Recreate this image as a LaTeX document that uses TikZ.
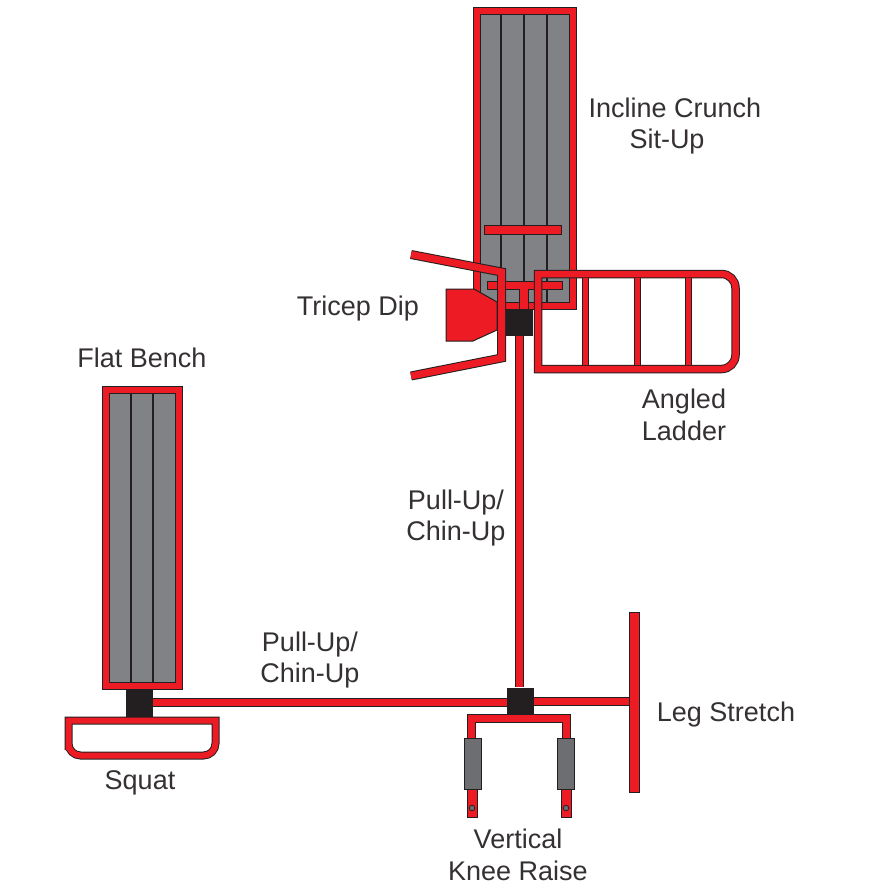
\documentclass[tikz,border=0pt]{standalone}
\usepackage{fontspec}
\setmainfont{Liberation Sans}
\definecolor{barred}{HTML}{ED1C24}
\definecolor{barline}{HTML}{231F20}
\definecolor{padgray}{HTML}{808285}
\definecolor{sleevegray}{HTML}{6D6E71}
\tikzset{
	redbar/.style={draw=barline, line width=1pt, double=barred, double distance=#1, line join=miter},
	redbar/.default=6pt,
	crossbar/.style={draw=barline, line width=1pt, fill=barred},
	padline/.style={draw=barline, line width=1.5pt},
	sleeve/.style={draw=barline, line width=1pt, fill=sleevegray},
	pivot/.style={draw=barline, line width=0.8pt, fill=sleevegray},
	block/.style={fill=barline, inner sep=0pt, minimum width=27pt, minimum height=27pt},
	lab/.style={font=\fontsize{27pt}{31.5pt}\selectfont, align=center, text=barline!92!white, inner sep=0pt},
}
\begin{document}
\begin{tikzpicture}[x=1pt, y=-1pt]
	\useasboundingbox (0,0) rectangle (894,894);
	\fill[white] (0,0) rectangle (894,894);
	% incline bench
	\draw[redbar, fill=padgray] (476.5,10.5) rectangle (572.5,305.5);
	\draw[padline] (501,14) -- (501,302);
	\draw[padline] (524,14) -- (524,302);
	\draw[padline] (547,14) -- (547,302);
	\draw[crossbar] (484,225) rectangle (561,234);
	\draw[crossbar] (487,281) rectangle (562,289);
	\draw[crossbar] (519,285) rectangle (528,309);
	% angled ladder
	\draw[redbar=6.5pt] (538,274) [rounded corners=14pt] -- (735.5,274) -- (735.5,369) -- (640,369) [sharp corners] -- (538,369) -- cycle;
	\draw[redbar=5pt] (585.5,278) -- (585.5,365);
	\draw[redbar=5pt] (637,278) -- (637,365);
	\draw[redbar=5pt] (688,278) -- (688,365);
	% tricep dip
	\draw[crossbar] (446,289) -- (474,289) -- (497,302) -- (497,330) -- (473,341) -- (446,341) -- cycle;
	\draw[redbar=7pt] (411,254.5) -- (501.5,272) -- (501.5,358) -- (411,376);
	\draw[crossbar, draw=none] (506,281.5) rectangle (533,288.5);
	% flat bench
	\draw[redbar, fill=padgray] (105.5,389.5) rectangle (178.5,685.5);
	\draw[padline] (131,393) -- (131,682);
	\draw[padline] (153,393) -- (153,682);
	% squat
	\draw[redbar] (68.5,720.5) -- (215.5,720.5) -- (215.5,738) [rounded corners=12pt] -- (215.5,755.5) -- (68.5,755.5) -- (68.5,738) [sharp corners] -- cycle;
	% knee raise
	\draw[redbar=7pt] (471.5,738) -- (471.5,718) -- (566.5,718) -- (566.5,738);
	\draw[crossbar] (467,789) rectangle (477,817);
	\draw[crossbar] (561,789) rectangle (571,817);
	\draw[sleeve] (464,738) rectangle (481,789);
	\draw[sleeve] (557.5,738) rectangle (574,789);
	\draw[pivot] (472,808) circle (2.8);
	\draw[pivot] (566,808) circle (2.8);
	% frame joints
	\node[block] (topjoint) at (519.5,322.5) {};
	\node[block] (midjoint) at (520.5,701) {};
	\node[block, minimum height=28pt] (leftjoint) at (139,702.5) {};
	\node[crossbar, inner sep=0pt, minimum width=10pt, minimum height=180pt] (legbar) at (634,702) {};
	\draw[redbar=7pt] (topjoint) -- (topjoint |- midjoint.north); % upright
	\draw[redbar=7pt] (leftjoint) -- (leftjoint -| midjoint.west); % long bar
	\draw[redbar=7pt] (midjoint) -- (midjoint -| legbar.west); % leg stretch
	% labels
	\node[lab] (incline) at (675,108) {Incline Crunch};
	\node[lab] (situp) at (667,142) {Sit-Up};
	\node[lab] (dip) at (358,309) {Tricep Dip};
	\node[lab] (flat) at (142,358) {Flat Bench};
	\node[lab] (squat) at (140,783) {Squat};
	\node[lab] (ladder) at (684,415) {Angled\\Ladder};
	\node[lab] (pullupa) at (456,518) {Pull-Up/\\Chin-Up};
	\node[lab] (pullupb) at (310,660) {Pull-Up/\\Chin-Up};
	\node[lab] (legstretch) at (726,715) {Leg Stretch};
	\node[lab] (kneeraise) at (518,855) {Vertical\\Knee Raise};
\end{tikzpicture}
\end{document}
